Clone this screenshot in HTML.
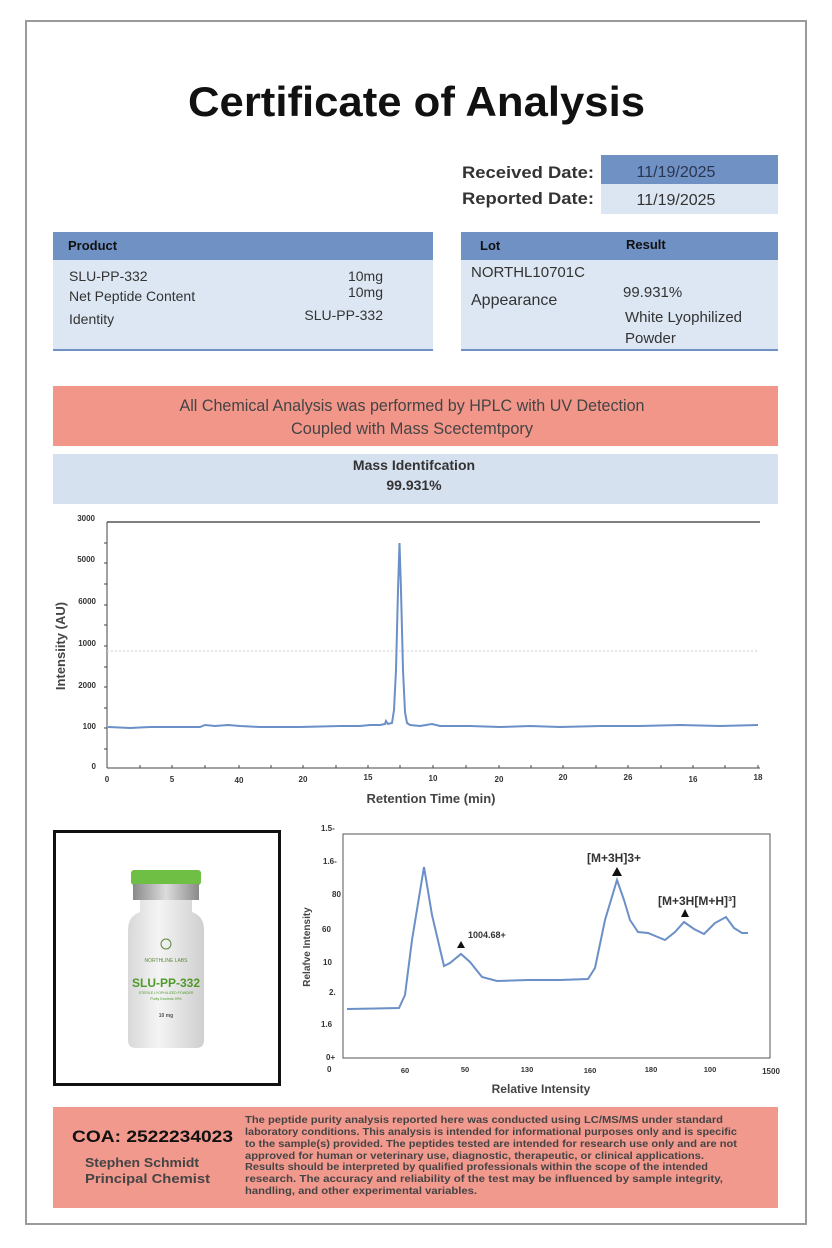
<!DOCTYPE html>
<html><head><meta charset="utf-8"><style>
html,body{margin:0;padding:0;background:#fff}
svg{display:block}
text{font-family:"Liberation Sans",sans-serif}
</style></head><body>
<svg width="832" height="1248" viewBox="0 0 832 1248" xmlns="http://www.w3.org/2000/svg">
<rect x="0" y="0" width="832" height="1248" fill="#fff"/>
<rect x="26" y="21" width="780" height="1203" fill="#fff" stroke="#9a9a9a" stroke-width="2"/>
<text x="188" y="116" font-size="42" font-weight="bold" fill="#111" textLength="457" lengthAdjust="spacingAndGlyphs">Certificate of Analysis</text>

<text x="462" y="178" font-size="17" font-weight="bold" fill="#333" textLength="132" lengthAdjust="spacingAndGlyphs">Received Date:</text>
<rect x="601" y="155" width="177" height="29" fill="#6f91c4"/>
<text x="676" y="177" text-anchor="middle" font-size="16" fill="#2a3550">11/19/2025</text>
<text x="462" y="204" font-size="17" font-weight="bold" fill="#333" textLength="132" lengthAdjust="spacingAndGlyphs">Reported Date:</text>
<rect x="601" y="184" width="177" height="30" fill="#dce6f2"/>
<text x="676" y="205" text-anchor="middle" font-size="16" fill="#333">11/19/2025</text>

<rect x="53" y="232" width="380" height="28" fill="#6f91c4"/>
<rect x="53" y="260" width="380" height="90" fill="#dde7f3"/>
<rect x="53" y="349" width="380" height="2" fill="#6f91c4"/>
<text x="68" y="250" font-size="13" font-weight="bold" fill="#111">Product</text>
<text x="69" y="281" font-size="14" fill="#333">SLU-PP-332</text>
<text x="69" y="301" font-size="14" fill="#333">Net Peptide Content</text>
<text x="69" y="324" font-size="14" fill="#333">Identity</text>
<text x="383" y="281" text-anchor="end" font-size="14" fill="#333">10mg</text>
<text x="383" y="297" text-anchor="end" font-size="14" fill="#333">10mg</text>
<text x="383" y="320" text-anchor="end" font-size="14" fill="#333">SLU-PP-332</text>

<rect x="461" y="232" width="317" height="28" fill="#6f91c4"/>
<rect x="461" y="260" width="317" height="90" fill="#dde7f3"/>
<rect x="461" y="349" width="317" height="2" fill="#6f91c4"/>
<text x="480" y="250" font-size="13" font-weight="bold" fill="#111">Lot</text>
<text x="626" y="249" font-size="13" font-weight="bold" fill="#111">Result</text>
<text x="471" y="277" font-size="15" fill="#333">NORTHL10701C</text>
<text x="471" y="305" font-size="16" fill="#333">Appearance</text>
<text x="623" y="297" font-size="15" fill="#333">99.931%</text>
<text x="625" y="322" font-size="15" fill="#333">White Lyophilized</text>
<text x="625" y="343" font-size="15" fill="#333">Powder</text>

<rect x="53" y="386" width="725" height="60" fill="#f2968a"/>
<text x="412" y="411" text-anchor="middle" font-size="17" fill="#444" textLength="465" lengthAdjust="spacingAndGlyphs">All Chemical Analysis was performed by HPLC with UV Detection</text>
<text x="412" y="434" text-anchor="middle" font-size="17" fill="#444" textLength="242" lengthAdjust="spacingAndGlyphs">Coupled with Mass Scectemtpory</text>
<rect x="53" y="454" width="725" height="50" fill="#d6e1ef"/>
<text x="414" y="470" text-anchor="middle" font-size="14" font-weight="bold" fill="#333">Mass Identifcation</text>
<text x="414" y="490" text-anchor="middle" font-size="14" font-weight="bold" fill="#333">99.931%</text>

<!-- chart 1 -->
<line x1="107" y1="522" x2="760" y2="522" stroke="#555" stroke-width="1.5"/>
<line x1="107" y1="522" x2="107" y2="768" stroke="#444" stroke-width="1"/>
<line x1="107" y1="768" x2="760" y2="768" stroke="#444" stroke-width="1"/>
<line x1="107" y1="651" x2="758" y2="651" stroke="#c8ccd4" stroke-width="1" stroke-dasharray="2,2"/>
<g font-size="8" fill="#333" text-anchor="end" font-weight="bold">
<text x="95" y="521">3000</text><text x="95" y="562">5000</text><text x="96" y="604">6000</text>
<text x="96" y="646">1000</text><text x="96" y="688">2000</text><text x="96" y="729">100</text><text x="96" y="769">0</text>
</g>
<g stroke="#444" stroke-width="1">
<line x1="104" y1="543" x2="107" y2="543"/><line x1="104" y1="563" x2="107" y2="563"/><line x1="104" y1="584" x2="107" y2="584"/><line x1="104" y1="605" x2="107" y2="605"/><line x1="104" y1="625" x2="107" y2="625"/><line x1="104" y1="646" x2="107" y2="646"/><line x1="104" y1="667" x2="107" y2="667"/><line x1="104" y1="687" x2="107" y2="687"/><line x1="104" y1="708" x2="107" y2="708"/><line x1="104" y1="728" x2="107" y2="728"/><line x1="104" y1="749" x2="107" y2="749"/>
</g>
<g stroke="#444" stroke-width="1">
<line x1="140" y1="765" x2="140" y2="768"/><line x1="172" y1="765" x2="172" y2="768"/><line x1="205" y1="765" x2="205" y2="768"/><line x1="239" y1="765" x2="239" y2="768"/><line x1="271" y1="765" x2="271" y2="768"/><line x1="303" y1="765" x2="303" y2="768"/><line x1="336" y1="765" x2="336" y2="768"/><line x1="368" y1="765" x2="368" y2="768"/><line x1="400" y1="765" x2="400" y2="768"/><line x1="433" y1="765" x2="433" y2="768"/><line x1="466" y1="765" x2="466" y2="768"/><line x1="499" y1="765" x2="499" y2="768"/><line x1="531" y1="765" x2="531" y2="768"/><line x1="563" y1="765" x2="563" y2="768"/><line x1="596" y1="765" x2="596" y2="768"/><line x1="628" y1="765" x2="628" y2="768"/><line x1="661" y1="765" x2="661" y2="768"/><line x1="693" y1="765" x2="693" y2="768"/><line x1="725" y1="765" x2="725" y2="768"/><line x1="758" y1="765" x2="758" y2="768"/>
</g>
<g font-size="8" fill="#333" text-anchor="middle" font-weight="bold">
<text x="107" y="782">0</text><text x="172" y="782">5</text><text x="239" y="783">40</text><text x="303" y="782">20</text><text x="368" y="780">15</text><text x="433" y="781">10</text><text x="499" y="782">20</text><text x="563" y="780">20</text><text x="628" y="780">26</text><text x="693" y="782">16</text><text x="758" y="780">18</text>
</g>
<text x="431" y="803" text-anchor="middle" font-size="13" font-weight="bold" fill="#444">Retention Time (min)</text>
<text transform="translate(65,646) rotate(-90)" text-anchor="middle" font-size="13" font-weight="bold" fill="#444">Intensiity (AU)</text>
<polyline fill="none" stroke="#6b8fc7" stroke-width="2" points="108,727 130,728 150,727 170,727 200,727 205,725 215,726 228,725 240,726 260,727 300,727 340,726 360,726 370,725 380,725 385,724 386,721 388,724 392,723 394,710 396,670 398,590 399.5,543 401,590 403,670 405,712 407,723 410,725 420,726 432,724 440,726 470,726 500,727 530,726 560,727 600,726 640,726 680,725 720,726 758,725"/>

<!-- image box -->
<rect x="54.5" y="831.5" width="225" height="253" fill="#fff" stroke="#111" stroke-width="3"/>
<defs>
<linearGradient id="gv" x1="0" x2="1"><stop offset="0" stop-color="#d8d8d8"/><stop offset="0.4" stop-color="#f4f4f4"/><stop offset="1" stop-color="#cfcfcf"/></linearGradient>
<linearGradient id="gc" x1="0" x2="1"><stop offset="0" stop-color="#8a8a8a"/><stop offset="0.5" stop-color="#dcdcdc"/><stop offset="1" stop-color="#8a8a8a"/></linearGradient>
</defs>
<rect x="131" y="870" width="70" height="15" rx="3" fill="#6fbf45"/>
<rect x="133" y="884" width="66" height="16" fill="url(#gc)"/>
<path d="M140,900 L192,900 L192,912 Q204,916 204,930 L204,1040 Q204,1048 196,1048 L136,1048 Q128,1048 128,1040 L128,930 Q128,916 140,912 Z" fill="url(#gv)"/>
<circle cx="166" cy="944" r="5" fill="none" stroke="#5a8a3a" stroke-width="1"/>
<text x="166" y="962" text-anchor="middle" font-size="5" fill="#5a8a3a">NORTHLINE LABS</text>
<text x="166" y="987" text-anchor="middle" font-size="12" font-weight="bold" fill="#4f9a2a">SLU-PP-332</text>
<text x="166" y="994" text-anchor="middle" font-size="3.5" fill="#4f9a2a">STERILE LYOPHILIZED POWDER</text>
<text x="166" y="1000" text-anchor="middle" font-size="3.5" fill="#4f9a2a">Purity Exceeds 99%</text>
<text x="166" y="1017" text-anchor="middle" font-size="5" font-weight="bold" fill="#555">10 mg</text>

<!-- chart 2 -->
<rect x="343" y="834" width="427" height="224" fill="none" stroke="#555" stroke-width="1"/>
<g font-size="8" fill="#333" font-weight="bold">
<text x="321" y="831">1.5-</text><text x="323" y="864">1.6-</text><text x="332" y="897">80</text><text x="322" y="932">60</text><text x="323" y="965">10</text><text x="329" y="995">2.</text><text x="321" y="1027">1.6</text><text x="326" y="1060">0+</text><text x="327" y="1072">0</text>
</g>
<g font-size="7.5" fill="#333" text-anchor="middle" font-weight="bold">
<text x="405" y="1073">60</text><text x="465" y="1072">50</text><text x="527" y="1072">130</text><text x="590" y="1073">160</text><text x="651" y="1072">180</text><text x="710" y="1072">100</text><text x="771" y="1074" font-size="8">1500</text>
</g>
<text x="541" y="1093" text-anchor="middle" font-size="12" font-weight="bold" fill="#444">Relative Intensity</text>
<text transform="translate(310,947) rotate(-90)" text-anchor="middle" font-size="10" font-weight="bold" fill="#444">Relafve Intensity</text>
<polyline fill="none" stroke="#6b8fc7" stroke-width="2" points="347,1009 399,1008 405,995 412,940 424,867 432,915 444,966 450,963 461,954 470,962 482,977 497,981 528,980 560,980 588,979 595,968 605,920 617,880 624,900 630,920 638,932 648,933 665,940 675,932 684,922 694,929 704,934 710,928 715,923 726,917 734,928 742,933 748,933"/>
<path d="M457,948 L465,948 L461,941 Z" fill="#111"/>
<text x="468" y="938" font-size="9" font-weight="bold" fill="#333">1004.68+</text>
<path d="M612,876 L622,876 L617,867 Z" fill="#111"/>
<text x="587" y="862" font-size="12" font-weight="bold" fill="#333">[M+3H]3+</text>
<path d="M681,917 L689,917 L685,909 Z" fill="#111"/>
<text x="658" y="905" font-size="12" font-weight="bold" fill="#333">[M+3H[M+H]³]</text>

<!-- footer -->
<rect x="53" y="1107" width="725" height="101" fill="#f2998e"/>
<text x="72" y="1142" font-size="17" font-weight="bold" fill="#111" textLength="161" lengthAdjust="spacingAndGlyphs">COA: 2522234023</text>
<text x="85" y="1167" font-size="13" font-weight="bold" fill="#444" textLength="114" lengthAdjust="spacingAndGlyphs">Stephen Schmidt</text>
<text x="85" y="1183" font-size="13" font-weight="bold" fill="#444" textLength="125" lengthAdjust="spacingAndGlyphs">Principal Chemist</text>
<g font-size="10" font-weight="bold" fill="#444">
<text x="245" y="1123" textLength="478" lengthAdjust="spacingAndGlyphs">The peptide purity analysis reported here was conducted using LC/MS/MS under standard</text>
<text x="245" y="1135" textLength="492" lengthAdjust="spacingAndGlyphs">laboratory conditions. This analysis is intended for informational purposes only and is specific</text>
<text x="245" y="1147" textLength="492" lengthAdjust="spacingAndGlyphs">to the sample(s) provided. The peptides tested are intended for research use only and are not</text>
<text x="245" y="1159" textLength="459" lengthAdjust="spacingAndGlyphs">approved for human or veterinary use, diagnostic, therapeutic, or clinical applications.</text>
<text x="245" y="1170" textLength="463" lengthAdjust="spacingAndGlyphs">Results should be interpreted by qualified professionals within the scope of the intended</text>
<text x="245" y="1182" textLength="478" lengthAdjust="spacingAndGlyphs">research. The accuracy and reliability of the test may be influenced by sample integrity,</text>
<text x="245" y="1194" textLength="232" lengthAdjust="spacingAndGlyphs">handling, and other experimental variables.</text>
</g>
</svg>
</body></html>
